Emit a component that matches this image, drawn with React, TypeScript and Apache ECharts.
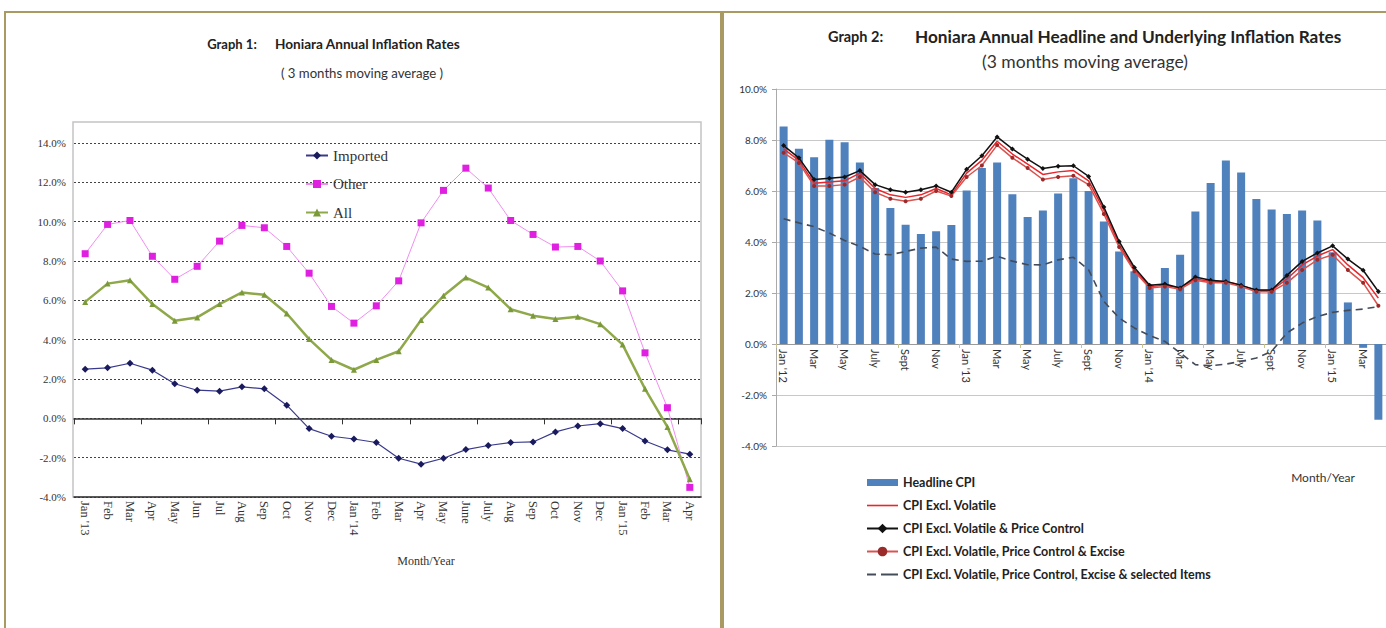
import React, { useEffect, useRef } from "react";
import * as echarts from "echarts";

// ---------- Graph 1 data ----------
const leftMonths = [
  "Jan '13", "Feb", "Mar", "Apr", "May", "Jun", "Jul", "Aug", "Sep", "Oct", "Nov", "Dec",
  "Jan '14", "Feb", "Mar", "Apr", "May", "June", "July", "Aug", "Sep", "Oct", "Nov", "Dec",
  "Jan '15", "Feb", "Mar", "Apr",
];
const imported = [2.5, 2.57, 2.8, 2.45, 1.76, 1.43, 1.38, 1.6, 1.5, 0.67, -0.52, -0.91, -1.05, -1.23, -2.03, -2.33, -2.03, -1.59, -1.38, -1.23, -1.2, -0.69, -0.39, -0.27, -0.52, -1.15, -1.6, -1.82];
const other = [8.37, 9.86, 10.06, 8.24, 7.07, 7.73, 9.01, 9.81, 9.69, 8.74, 7.38, 5.69, 4.84, 5.72, 6.99, 9.94, 11.59, 12.72, 11.71, 10.06, 9.35, 8.71, 8.74, 8.0, 6.48, 3.33, 0.54, -3.51];
const all = [5.92, 6.85, 7.02, 5.81, 4.96, 5.13, 5.81, 6.4, 6.28, 5.33, 4.03, 2.97, 2.47, 2.97, 3.41, 5.0, 6.23, 7.16, 6.65, 5.55, 5.22, 5.05, 5.16, 4.79, 3.75, 1.5, -0.44, -3.1];

// ---------- Graph 2 data ----------
const rightMonths = [
  "Jan '12", "Feb", "Mar", "Apr", "May", "June", "July", "Aug", "Sept", "Oct", "Nov", "Dec",
  "Jan '13", "Feb", "Mar", "Apr", "May", "June", "July", "Aug", "Sept", "Oct", "Nov", "Dec",
  "Jan '14", "Feb", "Mar", "Apr", "May", "June", "July", "Aug", "Sept", "Oct", "Nov", "Dec",
  "Jan '15", "Feb", "Mar", "Apr",
];
const headline = [8.53, 7.66, 7.32, 8.01, 7.91, 7.12, 6.12, 5.33, 4.68, 4.31, 4.42, 4.67,
  6.02, 6.9, 7.12, 5.87, 4.98, 5.24, 5.9, 6.5, 6.0, 4.8, 3.63, 2.85,
  2.33, 2.98, 3.5, 5.2, 6.31, 7.2, 6.73, 5.69, 5.27, 5.1, 5.24, 4.84,
  3.6, 1.63, -0.15, -2.97];
const exclVolatile = [7.65, 7.2, 6.3, 6.35, 6.4, 6.7, 6.1, 5.85, 5.75, 5.85, 6.1, 5.85,
  6.7, 7.2, 7.95, 7.45, 7.05, 6.65, 6.75, 6.8, 6.4, 5.25, 3.9, 2.9,
  2.25, 2.3, 2.2, 2.55, 2.45, 2.45, 2.3, 2.1, 2.1, 2.55, 3.1, 3.45,
  3.7, 3.1, 2.6, 1.8];
const exclVolPrice = [7.78, 7.3, 6.45, 6.5, 6.55, 6.8, 6.25, 6.05, 5.95, 6.05, 6.2, 5.95,
  6.85, 7.38, 8.12, 7.65, 7.25, 6.88, 6.97, 6.99, 6.57, 5.37, 4.02, 3.0,
  2.3, 2.35, 2.2, 2.63, 2.5, 2.45, 2.3, 2.12, 2.12, 2.69, 3.24, 3.57,
  3.85, 3.33, 2.89, 2.06];
const exclVolPriceExcise = [7.5, 7.1, 6.2, 6.2, 6.25, 6.55, 5.95, 5.7, 5.6, 5.7, 6.0, 5.8,
  6.55, 7.0, 7.8, 7.3, 6.9, 6.45, 6.55, 6.6, 6.25, 5.1, 3.8, 2.85,
  2.2, 2.25, 2.15, 2.5, 2.4, 2.4, 2.25, 2.05, 2.05, 2.4, 2.9, 3.3,
  3.5, 2.9, 2.4, 1.5];
const exclSelected = [4.91, 4.75, 4.6, 4.35, 4.06, 3.83, 3.53, 3.5, 3.63, 3.76, 3.8, 3.33,
  3.24, 3.25, 3.44, 3.25, 3.11, 3.1, 3.3, 3.4, 2.91, 1.67, 1.02, 0.63,
  0.33, 0.1, -0.35, -0.81, -0.85, -0.79, -0.68, -0.55, -0.29, 0.43, 0.82, 1.08,
  1.24, 1.32, 1.37, 1.47];

const SERIF = "'Liberation Serif', 'DejaVu Serif', serif";
const SANS = "Lato, 'Open Sans', sans-serif";
const pct = (v: number) => v.toFixed(1) + "%";

export default function App() {
  const ref = useRef<HTMLDivElement>(null);
  useEffect(() => {
    document.body.style.margin = "0";
    if (!ref.current) return;
    const chart = echarts.init(ref.current, undefined, { renderer: "svg" });
    const option: any = {
      animation: false,
      backgroundColor: "#ffffff",
      graphic: [
        { type: "rect", silent: true, shape: { x: 5, y: 12, width: 716, height: 640 }, style: { fill: "none", stroke: "#a99a63", lineWidth: 2 } },
        { type: "rect", silent: true, shape: { x: 723, y: 12, width: 700, height: 640 }, style: { fill: "none", stroke: "#a99a63", lineWidth: 2 } },
        { type: "rect", silent: true, shape: { x: 73, y: 122, width: 628, height: 375 }, style: { fill: "none", stroke: "#c4c4c4", lineWidth: 1.5 } },
        { type: "text", x: 232, y: 44, style: { text: "Graph 1:", font: "bold 13px " + SANS, fill: "#222", textAlign: "center", textVerticalAlign: "middle" } },
        { type: "text", x: 275, y: 44, style: { text: "Honiara Annual Inflation Rates", font: "bold 13.6px " + SANS, fill: "#222", textAlign: "left", textVerticalAlign: "middle" } },
        { type: "text", x: 362, y: 73, style: { text: "( 3 months moving average )", font: "13.2px " + SANS, fill: "#333", textAlign: "center", textVerticalAlign: "middle" } },
        { type: "text", x: 426, y: 561, style: { text: "Month/Year", font: "12px " + SERIF, fill: "#333", textAlign: "center", textVerticalAlign: "middle" } },
        { type: "text", x: 828, y: 36, style: { text: "Graph 2:", font: "bold 14.5px " + SANS, fill: "#222", textAlign: "left", textVerticalAlign: "middle" } },
        { type: "text", x: 915, y: 36, style: { text: "Honiara Annual Headline and Underlying Inflation Rates", font: "bold 17.2px " + SANS, fill: "#222", textAlign: "left", textVerticalAlign: "middle" } },
        { type: "text", x: 1085, y: 61, style: { text: "(3 months moving average)", font: "17.5px " + SANS, fill: "#333", textAlign: "center", textVerticalAlign: "middle" } },
        { type: "text", x: 1323, y: 477, style: { text: "Month/Year", font: "12px " + SANS, fill: "#333", textAlign: "center", textVerticalAlign: "middle" } },
      ],
      legend: [
        {
          left: 300, top: 143, orient: "vertical", itemGap: 13.5, itemWidth: 22, itemHeight: 10,
          selectedMode: false,
          textStyle: { fontFamily: SERIF, fontSize: 15, color: "#333" },
          data: ["Imported", "Other", "All"],
        },
        {
          left: 861, top: 471, orient: "vertical", itemGap: 10, itemWidth: 31, itemHeight: 12,
          selectedMode: false,
          textStyle: { fontFamily: SANS, fontSize: 12.5, fontWeight: "bold", color: "#222" },
          data: [
            { name: "Headline CPI", icon: "path://M0,0h31v7h-31z" },
            { name: "CPI Excl. Volatile", icon: "path://M0,0h31v1.6h-31z" },
            "CPI Excl. Volatile & Price Control",
            "CPI Excl. Volatile, Price Control & Excise",
            { name: "CPI Excl. Volatile, Price Control, Excise & selected Items", icon: "path://M0,0h9v2h-9zM14,0h17v2h-17z" },
          ],
        },
      ],
      grid: [
        { left: 74, right: 685, top: 143, bottom: 131 },
        { left: 776, right: 0, top: 89, bottom: 182 },
        { left: 776, right: 0, top: 89, bottom: 284 },
      ],
      xAxis: [
        {
          gridIndex: 0, type: "category", data: leftMonths, position: "bottom",
          axisLine: { onZero: false, lineStyle: { color: "#333", width: 1.5 } },
          axisTick: { show: false },
          axisLabel: { rotate: -90, margin: 4, interval: 0, fontFamily: SERIF, fontSize: 12.5, color: "#333" },
          splitLine: { show: false },
        },
        {
          gridIndex: 0, type: "category", data: leftMonths, position: "bottom",
          axisLine: { onZero: true, lineStyle: { color: "#333", width: 1.5 } },
          axisTick: { show: true, length: 6, lineStyle: { color: "#333" } },
          axisLabel: { show: false },
          splitLine: { show: false },
        },
        {
          gridIndex: 1, type: "category", data: rightMonths, position: "bottom",
          axisLine: { onZero: true, onZeroAxisIndex: 1, lineStyle: { color: "#9a9a9a" } },
          axisTick: { show: true, length: 4, lineStyle: { color: "#c9c28a" } },
          axisLabel: { show: false },
          splitLine: { show: false },
        },
        {
          gridIndex: 2, type: "category", data: rightMonths, position: "bottom",
          axisLine: { show: false, onZero: false },
          axisTick: { show: false },
          axisLabel: { rotate: -90, margin: 5, interval: 1, fontFamily: SANS, fontSize: 11, color: "#333" },
          splitLine: { show: false },
        },
      ],
      yAxis: [
        {
          gridIndex: 0, type: "value", min: -4, max: 14, interval: 2,
          axisLine: { show: false }, axisTick: { show: false },
          axisLabel: { formatter: pct, margin: 8, fontFamily: SERIF, fontSize: 11, color: "#333" },
          splitLine: { lineStyle: { color: "#444", type: [2, 2], width: 1 } },
        },
        {
          gridIndex: 1, type: "value", min: -4, max: 10, interval: 2,
          axisLine: { show: true, lineStyle: { color: "#aaaaaa" } },
          axisTick: { show: true, length: 4, lineStyle: { color: "#aaaaaa" } },
          axisLabel: { formatter: pct, margin: 9, fontFamily: SANS, fontSize: 10, color: "#333" },
          splitLine: { lineStyle: { color: "#c8c8c8" } },
        },
        {
          gridIndex: 2, type: "value", min: 0, max: 1, show: false,
        },
      ],
      series: [
        {
          name: "Imported", type: "line", xAxisIndex: 0, yAxisIndex: 0, data: imported,
          symbol: "diamond", symbolSize: 7,
          lineStyle: { color: "#3a3a8c", width: 1.2 }, itemStyle: { color: "#1a1a5e" },
        },
        {
          name: "Other", type: "line", xAxisIndex: 0, yAxisIndex: 0, data: other,
          symbol: "rect", symbolSize: 7,
          lineStyle: { color: "#f08ef0", width: 1 }, itemStyle: { color: "#e020e0" },
        },
        {
          name: "All", type: "line", xAxisIndex: 0, yAxisIndex: 0, data: all,
          symbol: "triangle", symbolSize: 6,
          lineStyle: { color: "#8fa84a", width: 2.5 }, itemStyle: { color: "#7a9a3a" },
        },
        {
          name: "Headline CPI", type: "bar", xAxisIndex: 2, yAxisIndex: 1, data: headline,
          barWidth: 8, itemStyle: { color: "#4f81bd" },
        },
        {
          name: "CPI Excl. Volatile", type: "line", xAxisIndex: 2, yAxisIndex: 1, data: exclVolatile,
          symbol: "none", lineStyle: { color: "#e8262b", width: 1.5 }, itemStyle: { color: "#e8262b" },
        },
        {
          name: "CPI Excl. Volatile & Price Control", type: "line", xAxisIndex: 2, yAxisIndex: 1, data: exclVolPrice,
          symbol: "diamond", symbolSize: 5, lineStyle: { color: "#111", width: 1.5 }, itemStyle: { color: "#111" },
        },
        {
          name: "CPI Excl. Volatile, Price Control & Excise", type: "line", xAxisIndex: 2, yAxisIndex: 1, data: exclVolPriceExcise,
          symbol: "circle", symbolSize: 4, lineStyle: { color: "#d9534f", width: 1.5 }, itemStyle: { color: "#9b2a2a" },
        },
        {
          name: "CPI Excl. Volatile, Price Control, Excise & selected Items", type: "line", xAxisIndex: 2, yAxisIndex: 1, data: exclSelected,
          symbol: "none", lineStyle: { color: "#444c5a", width: 1.6, type: [7, 5] }, itemStyle: { color: "#444c5a" },
        },
      ],
    };
    chart.setOption(option);
    return () => chart.dispose();
  }, []);
  return <div ref={ref} style={{ width: 1386, height: 628 }} />;
}
